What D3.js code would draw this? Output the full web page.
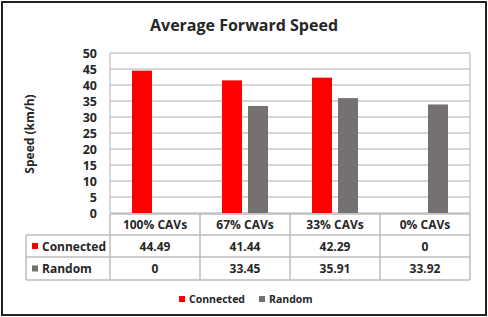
<!DOCTYPE html>
<html>
<head>
<meta charset="utf-8">
<script src="https://cdn.jsdelivr.net/npm/d3@7"></script>
<style>
	body { margin: 0; background: #fff; }
	text { font-family: "Open Sans", "DejaVu Sans", sans-serif; font-weight: bold; fill: #262626; }
</style>
</head>
<body>
<script>
"use strict"

var categories = ["100% CAVs", "67% CAVs", "33% CAVs", "0% CAVs"];
var connected = [44.49, 41.44, 42.29, 0];
var random = [0, 33.45, 35.91, 33.92];
var yTicks = [0, 5, 10, 15, 20, 25, 30, 35, 40, 45, 50];
var seriesNames = ["Connected", "Random"];
var seriesColors = ["#ff0000", "#767171"];

var W = 488, H = 317;
var plot = {left: 110, right: 470, top: 53, bottom: 213};
var tableLeft = 26;
var rowEdges = [214, 235, 257, 280];

var svg = d3.select("body").append("svg")
	.attr("width", W)
	.attr("height", H);

svg.append("rect")
	.attr("x", 2).attr("y", 2)
	.attr("width", W - 4).attr("height", H - 4)
	.attr("fill", "#fff")
	.attr("stroke", "#222")
	.attr("stroke-width", 2);

svg.append("text")
	.attr("x", 244).attr("y", 31)
	.attr("text-anchor", "middle")
	.style("font-size", "16px")
	.text("Average Forward Speed");

var x = d3.scaleBand().domain(categories).range([plot.left, plot.right]);
var y = d3.scaleLinear().domain([0, 50]).range([plot.bottom, plot.top]);

// gridlines
svg.append("g").selectAll("line")
	.data(yTicks)
	.join("line")
	.attr("x1", plot.left).attr("x2", plot.right)
	.attr("y1", function(d) { return y(d); })
	.attr("y2", function(d) { return y(d); })
	.attr("stroke", "#c8c8c8")
	.attr("stroke-width", 1.5);

svg.append("line")
	.attr("x1", plot.left).attr("x2", plot.left)
	.attr("y1", plot.top).attr("y2", plot.bottom)
	.attr("stroke", "#c8c8c8").attr("stroke-width", 1.5);
svg.append("line")
	.attr("x1", plot.right).attr("x2", plot.right)
	.attr("y1", plot.top).attr("y2", plot.bottom)
	.attr("stroke", "#c8c8c8").attr("stroke-width", 1.5);

// y axis
var yAxis = d3.axisLeft(y).tickValues(yTicks).tickSize(0).tickPadding(0);
var gy = svg.append("g")
	.attr("transform", "translate(" + 97 + ",0)")
	.call(yAxis);
gy.select(".domain").remove();
gy.selectAll("text")
	.style("font-size", "12.5px")
	.style("font-family", "'Open Sans', sans-serif")
	.attr("fill", "#262626");

svg.append("text")
	.attr("transform", "translate(34,134) rotate(-90)")
	.attr("text-anchor", "middle")
	.style("font-size", "12px")
	.text("Speed (km/h)");

// bars
var barW = 20, gap = 6;
var series = [connected, random];
series.forEach(function(vals, si) {
	svg.append("g").selectAll("rect")
		.data(vals)
		.join("rect")
		.attr("x", function(d, i) {
			var c = x(categories[i]) + x.bandwidth() / 2;
			return si == 0 ? c - gap / 2 - barW : c + gap / 2;
		})
		.attr("y", function(d) { return y(d); })
		.attr("width", barW)
		.attr("height", function(d) { return plot.bottom - y(d); })
		.attr("fill", seriesColors[si]);
});

// data table
var tg = svg.append("g");
var lineCol = "#bdbdbd";
// horizontal lines
tg.append("line")
	.attr("x1", plot.left).attr("x2", plot.right)
	.attr("y1", rowEdges[0]).attr("y2", rowEdges[0])
	.attr("stroke", lineCol).attr("stroke-width", 1.5);
rowEdges.slice(1).forEach(function(r) {
	tg.append("line")
		.attr("x1", tableLeft).attr("x2", plot.right)
		.attr("y1", r).attr("y2", r)
		.attr("stroke", lineCol).attr("stroke-width", 1.5);
});
// vertical lines
var colEdges = categories.map(function(c) { return x(c); }).concat([plot.right]);
colEdges.forEach(function(cx) {
	tg.append("line")
		.attr("x1", cx).attr("x2", cx)
		.attr("y1", rowEdges[0]).attr("y2", rowEdges[3])
		.attr("stroke", lineCol).attr("stroke-width", 1.5);
});
tg.append("line")
	.attr("x1", tableLeft).attr("x2", tableLeft)
	.attr("y1", rowEdges[1]).attr("y2", rowEdges[3])
	.attr("stroke", lineCol).attr("stroke-width", 1.5);

// header
tg.selectAll("text.hdr")
	.data(categories)
	.join("text")
	.attr("class", "hdr")
	.attr("x", function(d) { return x(d) + x.bandwidth() / 2; })
	.attr("y", (rowEdges[0] + rowEdges[1]) / 2 + 4)
	.attr("text-anchor", "middle")
	.style("font-size", "12px")
	.text(function(d) { return d; });

series.forEach(function(vals, si) {
	var cy = (rowEdges[si + 1] + rowEdges[si + 2]) / 2;
	tg.append("rect")
		.attr("x", 32).attr("y", cy - 3)
		.attr("width", 6).attr("height", 6)
		.attr("fill", seriesColors[si]);
	tg.append("text")
		.attr("x", 42).attr("y", cy + 4.5)
		.style("font-size", "12px")
		.text(seriesNames[si]);
	tg.append("g").selectAll("text")
		.data(vals)
		.join("text")
		.attr("x", function(d, i) { return x(categories[i]) + x.bandwidth() / 2; })
		.attr("y", cy + 4.5)
		.attr("text-anchor", "middle")
		.style("font-size", "12px")
		.text(function(d) { return d3.format(".2f")(d).replace(/^0\.00$/, "0"); });
});

// legend
var legendX = [179, 259];
seriesNames.forEach(function(n, i) {
	svg.append("rect")
		.attr("x", legendX[i]).attr("y", 296)
		.attr("width", 6).attr("height", 6)
		.attr("fill", seriesColors[i]);
	svg.append("text")
		.attr("x", legendX[i] + 10).attr("y", 303)
		.style("font-size", "10.5px")
		.text(n);
});
</script>
</body>
</html>
